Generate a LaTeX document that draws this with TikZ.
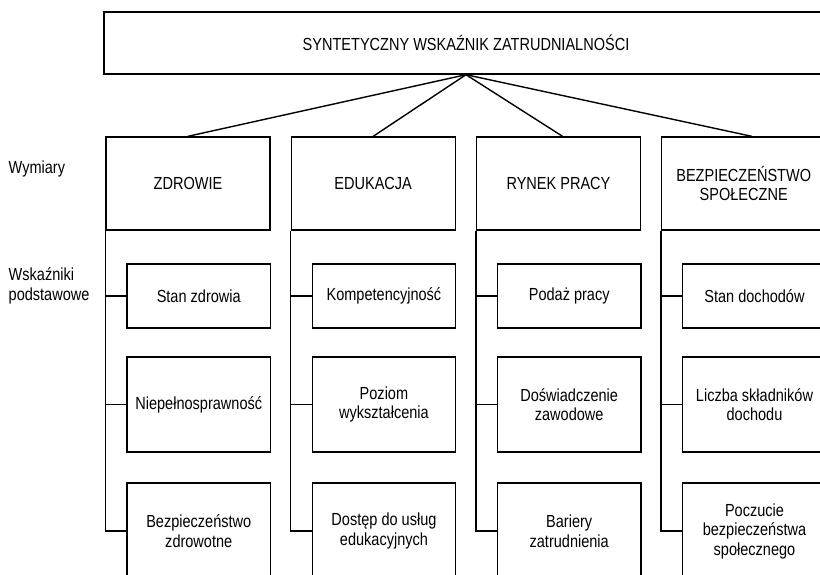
\documentclass[tikz,border=0pt]{standalone}
\usepackage{fontspec}
\setmainfont{Liberation Sans}[FakeStretch=0.83]
\usepackage{tikz}
\usetikzlibrary{positioning}

\begin{document}
\begin{tikzpicture}[x=1pt, y=-1pt, line width=1.4pt,
    every node/.style={font=\fontsize{17.5}{19.5}\selectfont, inner sep=0pt},
    dimbox/.style={draw, minimum width=164pt, minimum height=93pt, align=center},
    indbox/.style={draw, minimum width=143.5pt, align=center}]
    \useasboundingbox (0,0) rectangle (820,574);
    \clip (0,0) rectangle (820,574);
    \node[draw, minimum width=724pt, minimum height=62pt] (syn) at (466, 43) {SYNTETYCZNY WSKAŹNIK ZATRUDNIALNOŚCI};
    % wymiary
    \node[dimbox] (zdr) at (188, 183.5) {ZDROWIE};
    \node[dimbox] (edu) at (373.2, 183.5) {EDUKACJA};
    \node[dimbox] (ryn) at (558.5, 183.5) {RYNEK PRACY};
    \node[dimbox] (bez) at (743.7, 183.5) {BEZPIECZEŃSTWO\\SPOŁECZNE};
    \node[anchor=west, align=left] (wym) at (8, 169) {Wymiary};
    \node[anchor=west, align=left] (wsk) at (8, 286) {Wskaźniki\\podstawowe};
    \draw (syn.south) -- (zdr.north);
    \draw (syn.south) -- (edu.north);
    \draw (syn.south) -- ([xshift=4pt]ryn.north);
    \draw (syn.south) -- ([xshift=8pt]bez.north);
    % wskazniki podstawowe
    \node[indbox, minimum height=64pt] (zdr1) at (198.75, 296) {Stan zdrowia};
    \node[indbox, minimum height=95pt] (zdr2) at (198.75, 404.5) {Niepełnosprawność};
    \node[indbox, minimum height=96pt] (zdr3) at (198.75, 531) {Bezpieczeństwo\\zdrowotne};
    \node[indbox, minimum height=64pt] (edu1) at (383.95, 296) {Kompetencyjność};
    \node[indbox, minimum height=95pt] (edu2) at (383.95, 404.5) {Poziom\\wykształcenia};
    \node[indbox, minimum height=96pt] (edu3) at (383.95, 531) {Dostęp do usług\\edukacyjnych};
    \node[indbox, minimum height=64pt] (ryn1) at (569.2, 296) {Podaż pracy};
    \node[indbox, minimum height=95pt] (ryn2) at (569.2, 404.5) {Doświadczenie\\zawodowe};
    \node[indbox, minimum height=96pt] (ryn3) at (569.2, 531) {Bariery\\zatrudnienia};
    \node[indbox, minimum height=64pt] (bez1) at (754.5, 296) {Stan dochodów};
    \node[indbox, minimum height=95pt] (bez2) at (754.5, 404.5) {Liczba składników\\dochodu};
    \node[indbox, minimum height=96pt] (bez3) at (754.5, 531) {Poczucie\\bezpieczeństwa\\społecznego};
    % linie
    \draw (zdr.south west) |- (zdr3.west);
    \draw (zdr1.west) -- (zdr1.west -| zdr.south west);
    \draw (zdr2.west) -- (zdr2.west -| zdr.south west);
    \draw (edu.south west) |- (edu3.west);
    \draw (edu1.west) -- (edu1.west -| edu.south west);
    \draw (edu2.west) -- (edu2.west -| edu.south west);
    \draw (ryn.south west) |- (ryn3.west);
    \draw (ryn1.west) -- (ryn1.west -| ryn.south west);
    \draw (ryn2.west) -- (ryn2.west -| ryn.south west);
    \draw (bez.south west) |- (bez3.west);
    \draw (bez1.west) -- (bez1.west -| bez.south west);
    \draw (bez2.west) -- (bez2.west -| bez.south west);
\end{tikzpicture}
\end{document}
